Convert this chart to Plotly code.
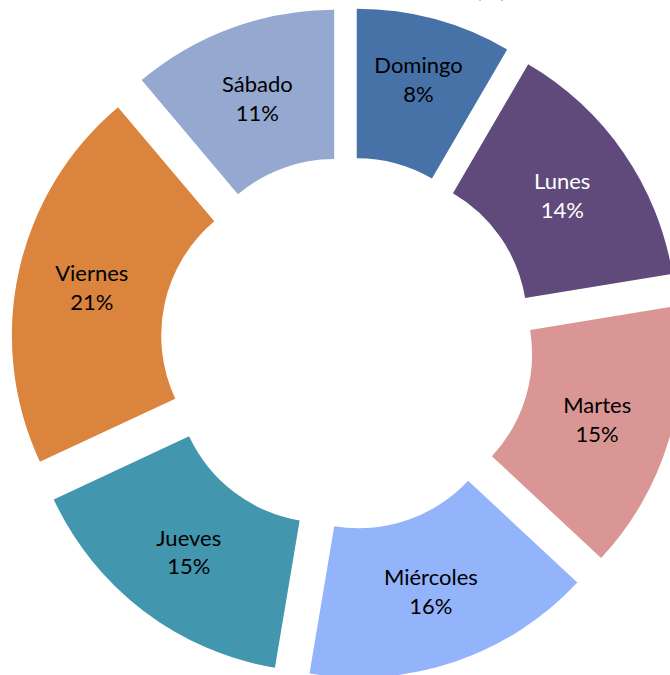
import plotly.graph_objects as go

dias = ["Domingo", "Lunes", "Martes", "Miércoles", "Jueves", "Viernes", "Sábado"]
porcentajes = [8.4, 14.0, 14.55, 15.7, 15.4, 20.8, 11.15]
colores = ["#4672A7", "#604A7B", "#D99694", "#93B3FA", "#4297AE", "#DB843D", "#95A9D0"]
colores_texto = ["black", "white", "black", "black", "black", "black", "black"]
titulo = "(%)"

W, H = 700, 684
cx, cy, half = 347.0, 343.5, 336.0

fig = go.Figure(go.Pie(
    labels=dias,
    values=porcentajes,
    sort=False,
    direction="clockwise",
    rotation=0,
    hole=0.5,
    pull=[0.125] * len(dias),
    marker=dict(colors=colores, line=dict(width=0)),
    texttemplate="%{label}<br>%{percent:.0%}",
    textposition="inside",
    insidetextorientation="horizontal",
    textfont=dict(family="Lato", size=22, color=colores_texto),
    domain=dict(x=[(cx - half) / W, (cx + half) / W],
                y=[1 - (cy + half) / H, 1 - (cy - half) / H]),
    showlegend=False,
    hoverinfo="label+percent",
))

fig.add_annotation(
    text="<b>" + titulo + "</b>", xref="paper", yref="paper",
    x=491 / W, y=1 - 4 / H, xanchor="center", yanchor="bottom",
    showarrow=False, font=dict(family="Lato", size=22, color="black"),
)

fig.update_layout(
    width=W, height=H, autosize=False,
    margin=dict(l=0, r=0, t=0, b=0),
    paper_bgcolor="white", plot_bgcolor="white",
    uniformtext=dict(minsize=22, mode="show"),
)

fig.write_html(
    "out.html",
    config={"displayModeBar": False},
    post_script=(
        "document.body.style.margin='0';"
        "document.body.style.overflow='hidden';"
        "document.documentElement.style.overflow='hidden';"
    ),
)
